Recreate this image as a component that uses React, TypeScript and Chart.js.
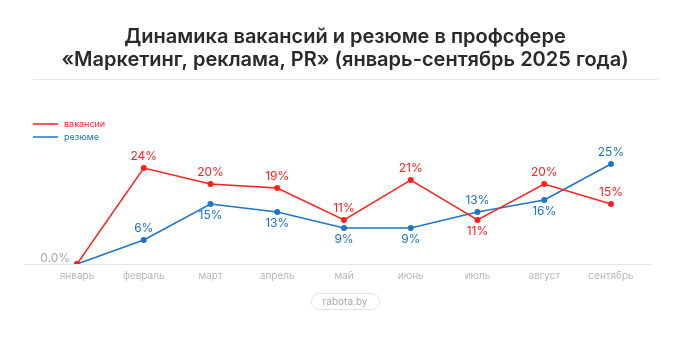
import React, { useEffect, useRef } from "react";
import { Chart, registerables } from "chart.js";
Chart.register(...registerables);

const titleLines = [
  "Динамика вакансий и резюме в профсфере",
  "«Маркетинг, реклама, PR» (январь-сентябрь 2025 года)",
];
const months = ["январь", "февраль", "март", "апрель", "май", "июнь", "июль", "август", "сентябрь"];
const vacancies = [0, 24, 20, 19, 11, 21, 11, 20, 15];
const resumes = [0, 6, 15, 13, 9, 9, 13, 16, 25];
const vacLabelPos = ["none", "up", "up", "up", "up", "up", "down", "up", "up"];
const resLabelPos = ["none", "up", "down", "down", "down", "down", "up", "down", "up"];
const firstLabel = "0.0%";
const seriesNames = ["вакансии", "резюме"];
const source = "rabota.by";

const RED = "#ff1f1f";
const BLUE = "#1f74c6";
const FONT = "Inter, 'Noto Sans', sans-serif";

const decor = {
  id: "decor",
  beforeDatasetsDraw(chart: any) {
    const { ctx, chartArea } = chart;
    ctx.save();
    ctx.strokeStyle = "#e4e4e4";
    ctx.lineWidth = 1;
    ctx.beginPath();
    ctx.moveTo(25, Math.round(chartArea.bottom) + 0.5);
    ctx.lineTo(652, Math.round(chartArea.bottom) + 0.5);
    ctx.stroke();
    ctx.restore();
  },
  afterDraw(chart: any) {
    const { ctx } = chart;
    ctx.save();
    // title
    ctx.fillStyle = "#2a2a2a";
    ctx.font = `600 20px ${FONT}`;
    ctx.textAlign = "center";
    ctx.textBaseline = "middle";
    ctx.fillText(titleLines[0], 345, 37);
    ctx.fillText(titleLines[1], 345, 60);
    // separator
    ctx.strokeStyle = "#e6e6e6";
    ctx.lineWidth = 1;
    ctx.beginPath();
    ctx.moveTo(33, 79.5);
    ctx.lineTo(658, 79.5);
    ctx.stroke();
    // legend
    const legendColors = [RED, BLUE];
    const legendY = [124, 137];
    ctx.font = `9px ${FONT}`;
    ctx.textAlign = "left";
    for (let i = 0; i < 2; i++) {
      ctx.strokeStyle = legendColors[i];
      ctx.lineWidth = 1.5;
      ctx.beginPath();
      ctx.moveTo(33, legendY[i]);
      ctx.lineTo(58, legendY[i]);
      ctx.stroke();
      ctx.fillStyle = legendColors[i];
      ctx.fillText(seriesNames[i], 64, legendY[i]);
    }
    // data labels
    ctx.font = `12px ${FONT}`;
    ctx.textAlign = "center";
    const posArr = [vacLabelPos, resLabelPos];
    const data = [vacancies, resumes];
    for (let d = 0; d < 2; d++) {
      const meta = chart.getDatasetMeta(d);
      meta.data.forEach((pt: any, j: number) => {
        const pos = posArr[d][j];
        if (pos === "none") return;
        ctx.fillStyle = legendColors[d];
        const y = pos === "up" ? pt.y - 12 : pt.y + 11;
        ctx.fillText(`${data[d][j]}%`, pt.x, y);
      });
    }
    const p0 = chart.getDatasetMeta(0).data[0];
    ctx.fillStyle = "#aaaaaa";
    ctx.textAlign = "right";
    ctx.fillText(firstLabel, p0.x - 7, p0.y - 6);
    // source pill
    const pw = 68, ph = 16, px = 345 - pw / 2, py = 293;
    ctx.strokeStyle = "#e2e2e2";
    ctx.lineWidth = 1;
    ctx.beginPath();
    (ctx as any).roundRect(px + 0.5, py + 0.5, pw, ph, 8);
    ctx.stroke();
    ctx.fillStyle = "#a8a8a8";
    ctx.textAlign = "center";
    ctx.font = `10px ${FONT}`;
    ctx.fillText(source, 345, py + ph / 2 + 1);
    ctx.restore();
  },
};

export default function App() {
  const ref = useRef<HTMLCanvasElement>(null);
  useEffect(() => {
    document.body.style.margin = "0";
    const chart = new Chart(ref.current!, {
      type: "line",
      data: {
        labels: months,
        datasets: [
          {
            label: seriesNames[0],
            data: vacancies,
            borderColor: RED,
            backgroundColor: RED,
            borderWidth: 1.5,
            pointRadius: 3,
            pointBorderWidth: 0,
            tension: 0,
          },
          {
            label: seriesNames[1],
            data: resumes,
            borderColor: BLUE,
            backgroundColor: BLUE,
            borderWidth: 1.5,
            pointRadius: 3,
            pointBorderWidth: 0,
            tension: 0,
          },
        ],
      },
      options: {
        responsive: false,
        animation: false,
        layout: { padding: { left: 77, right: 79, top: 144, bottom: 57 } },
        plugins: { legend: { display: false }, title: { display: false }, tooltip: { enabled: false } },
        scales: {
          x: {
            offset: false,
            grid: { display: false, drawTicks: false },
            border: { display: false },
            ticks: { color: "#b8b8b8", font: { size: 10, family: FONT }, padding: 6, maxRotation: 0 },
          },
          y: { display: false, min: 0, max: 30 },
        },
      },
      plugins: [decor],
    });
    return () => chart.destroy();
  }, []);
  return (
    <div style={{ position: "fixed", left: 0, top: 0, width: 690, height: 345, background: "#fff" }}>
      <canvas ref={ref} width={690} height={345} />
    </div>
  );
}
